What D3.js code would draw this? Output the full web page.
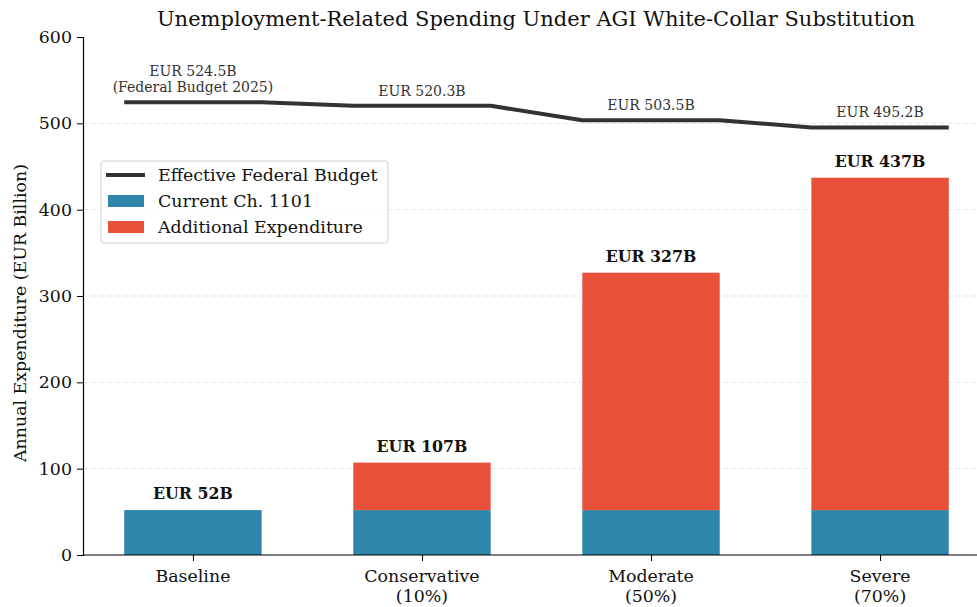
<!DOCTYPE html>
<html>
<head>
<meta charset="utf-8">
<script src="https://cdn.jsdelivr.net/npm/d3@7"></script>
<style>
body { margin: 0; background: #fff; }
text { font-family: "DejaVu Serif", serif; }
</style>
</head>
<body>
<svg width="977" height="607"></svg>
<script>
// data
var categories = ["Baseline", "Conservative\n(10%)", "Moderate\n(50%)", "Severe\n(70%)"];
var currentSpend = [52, 52, 52, 52];
var additionalSpend = [0, 55, 275, 385];
var totalLabels = ["EUR 52B", "EUR 107B", "EUR 327B", "EUR 437B"];
var budgetValues = [524.5, 520.3, 503.5, 495.2];
var budgetLabels = ["EUR 524.5B\n(Federal Budget 2025)", "EUR 520.3B", "EUR 503.5B", "EUR 495.2B"];
var yTicks = [0, 100, 200, 300, 400, 500, 600];

var blue = "#2E86AB", red = "#E8503A", dark = "#333333";
var barWidth = 0.6;

var svg = d3.select("svg");

var x = d3.scaleLinear().domain([-0.48, 3.48]).range([83, 990]);
var y = d3.scaleLinear().domain([0, 600]).range([555, 37]);

// grid
svg.selectAll(".grid")
    .data(yTicks.filter(function(d){ return d > 0 && d < 600; }))
    .enter()
    .append("line")
    .attr("x1", 83).attr("x2", 977)
    .attr("y1", function(d){ return y(d); })
    .attr("y2", function(d){ return y(d); })
    .attr("stroke", "#e6e6e6")
    .attr("stroke-width", 1)
    .attr("stroke-dasharray", "5,3");

// bars: current
svg.selectAll(".cur")
    .data(currentSpend)
    .enter()
    .append("rect")
    .attr("x", function(d, i){ return x(i - barWidth / 2); })
    .attr("width", function(){ return x(barWidth) - x(0); })
    .attr("y", function(d){ return y(d); })
    .attr("height", function(d){ return y(0) - y(d); })
    .attr("fill", blue);

// bars: additional
svg.selectAll(".add")
    .data(additionalSpend)
    .enter()
    .append("rect")
    .attr("x", function(d, i){ return x(i - barWidth / 2); })
    .attr("width", function(){ return x(barWidth) - x(0); })
    .attr("y", function(d, i){ return y(d + currentSpend[i]); })
    .attr("height", function(d){ return y(0) - y(d); })
    .attr("fill", red);

// total labels
svg.selectAll(".tot")
    .data(totalLabels)
    .enter()
    .append("text")
    .attr("x", function(d, i){ return x(i); })
    .attr("y", function(d, i){ return y(currentSpend[i] + additionalSpend[i]) - 11; })
    .attr("text-anchor", "middle")
    .attr("font-size", 15.8)
    .attr("font-weight", "bold")
    .attr("fill", "#111")
    .text(function(d){ return d; });

// budget line, flat across each bar
var linePts = [];
budgetValues.forEach(function(v, i){
    linePts.push([i - barWidth / 2, v]);
    linePts.push([i + barWidth / 2, v]);
});
svg.append("path")
    .datum(linePts)
    .attr("fill", "none")
    .attr("stroke", dark)
    .attr("stroke-width", 4)
    .attr("stroke-linejoin", "round")
    .attr("d", d3.line().x(function(d){ return x(d[0]); }).y(function(d){ return y(d[1]); }));

svg.selectAll(".blab")
    .data(budgetLabels)
    .enter()
    .append("text")
    .attr("text-anchor", "middle")
    .attr("font-size", 14)
    .attr("fill", dark)
    .each(function(d, i){
        var lines = d.split("\n");
        var t = d3.select(this);
        lines.forEach(function(s, k){
            t.append("tspan")
                .attr("x", x(i))
                .attr("y", y(budgetValues[i]) - 10 - (lines.length - 1 - k) * 16)
                .text(s);
        });
    });

// axes
var yAxis = d3.axisLeft(y).tickValues(yTicks).tickSize(6).tickPadding(5);
var gy = svg.append("g").attr("transform", "translate(83,0)").call(yAxis);
gy.select(".domain").attr("stroke", "#000").attr("stroke-width", 1.2);
gy.selectAll("text").attr("font-size", 17.4).attr("fill", "#111").style("font-family", "DejaVu Serif");

var xAxis = d3.axisBottom(x).tickValues([0, 1, 2, 3]).tickSize(6).tickFormat("");
var gx = svg.append("g").attr("transform", "translate(0,555)").call(xAxis);
gx.select(".domain").attr("d", "M83,0H977").attr("stroke", "#000").attr("stroke-width", 1.2);

svg.selectAll(".xl")
    .data(categories)
    .enter()
    .append("text")
    .attr("text-anchor", "middle")
    .attr("font-size", 17.4)
    .attr("fill", "#111")
    .each(function(d, i){
        var t = d3.select(this);
        d.split("\n").forEach(function(s, k){
            t.append("tspan").attr("x", x(i)).attr("y", 582 + k * 20).text(s);
        });
    });

// titles
svg.append("text")
    .attr("x", 536).attr("y", 26)
    .attr("text-anchor", "middle")
    .attr("font-size", 21)
    .attr("fill", "#111")
    .text("Unemployment-Related Spending Under AGI White-Collar Substitution");

svg.append("text")
    .attr("transform", "translate(26,313) rotate(-90)")
    .attr("text-anchor", "middle")
    .attr("font-size", 17.4)
    .attr("fill", "#111")
    .text("Annual Expenditure (EUR Billion)");

// legend
var lg = svg.append("g").attr("transform", "translate(101,161)");
lg.append("rect")
    .attr("width", 287).attr("height", 82).attr("rx", 3)
    .attr("fill", "#fff").attr("fill-opacity", 0.8)
    .attr("stroke", "#d0d0d0");
var legendItems = [
    {label: "Effective Federal Budget", type: "line", color: dark},
    {label: "Current Ch. 1101", type: "rect", color: blue},
    {label: "Additional Expenditure", type: "rect", color: red}
];
legendItems.forEach(function(it, k){
    var cy = 14 + k * 26;
    if (it.type === "line") {
        lg.append("line").attr("x1", 5).attr("x2", 44).attr("y1", cy).attr("y2", cy)
            .attr("stroke", it.color).attr("stroke-width", 4);
    } else {
        lg.append("rect").attr("x", 7).attr("y", cy - 6).attr("width", 36).attr("height", 12)
            .attr("fill", it.color);
    }
    lg.append("text").attr("x", 57).attr("y", cy + 6)
        .attr("font-size", 17.4).attr("fill", "#111").text(it.label);
});
</script>
</body>
</html>
